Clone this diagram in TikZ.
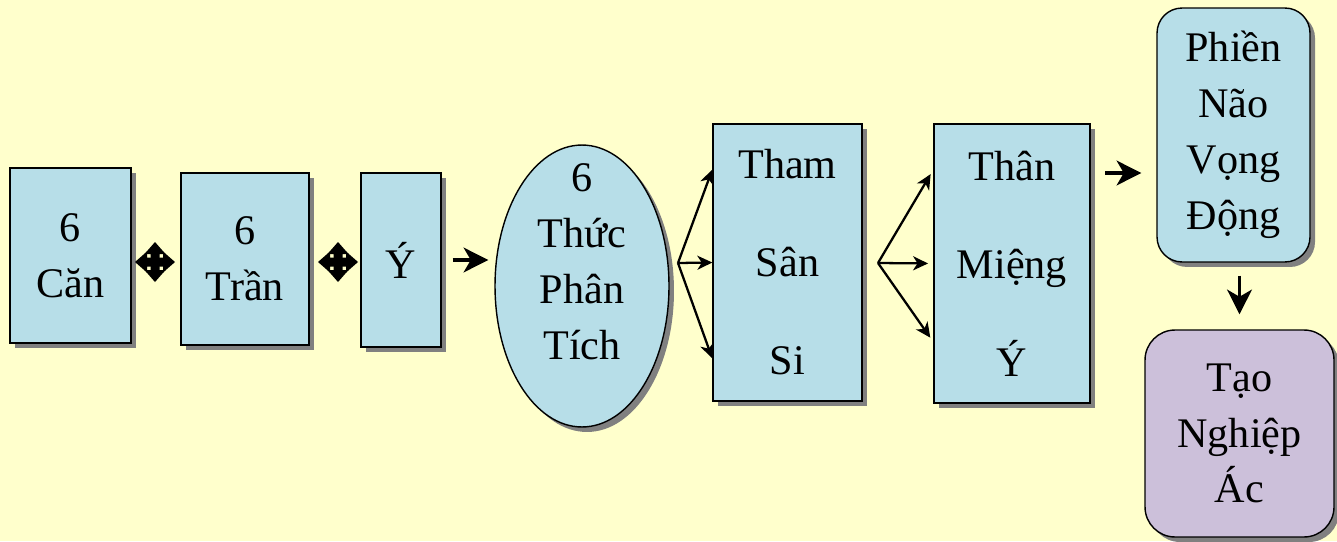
\documentclass[tikz,border=0pt]{standalone}
\usepackage{fontspec}
\setmainfont{Liberation Serif}
\usetikzlibrary{arrows.meta, positioning, shapes.geometric, shadows, calc}
\definecolor{bgyellow}{HTML}{FFFFCC}
\definecolor{boxblue}{HTML}{B7DEE8}
\definecolor{boxlilac}{HTML}{CCC0DA}
\definecolor{shadegray}{HTML}{808080}

\begin{document}
\begin{tikzpicture}[
    x=0.02cm, y=-0.02cm,
    >=Stealth,
    boxtext/.style={align=center, font=\fontsize{24}{31.8}\selectfont},
    box/.style={boxtext, draw, line width=0.8pt, fill=boxblue, inner sep=2pt,
                drop shadow={shadow xshift=0.1cm, shadow yshift=-0.1cm,
                             fill=shadegray, opacity=1}},
    tallbox/.style={box, font=\fontsize{24}{55.8}\selectfont},
    roundbox/.style={box, rounded corners=0.5cm},
    bigarrow/.style={-{Stealth[length=14pt, width=14pt, inset=4pt]},
                     line width=2.2pt},
    fanarrow/.style={-{Stealth[length=8.5pt, width=8pt, inset=2.5pt]},
                     line width=1.3pt}
  ]
  \fill[bgyellow] (0,0) rectangle (1337,541);
  \useasboundingbox (0,0) rectangle (1337,541);

  % senses and objects
  \node[box, minimum width=2.42cm, minimum height=3.5cm] (can) at (70.5,255.5) {6\\Căn};
  \node[box, minimum width=2.56cm, minimum height=3.44cm] (tran) at (245,259) {6\\Trần};
  \node[box, minimum width=1.6cm, minimum height=3.48cm] (yy) at (401,260) {Ý};

  % four-way arrows between them
  \coordinate (plusA) at (155,262);
  \coordinate (plusB) at (338,262);
  \foreach \p in {plusA, plusB}
    \foreach \a in {0,90,180,270}
      \fill[shift={(\p)}, rotate=\a]
        (0,-4.5) -- (8,-4.5) -- (8,-10.5) -- (20,0) -- (8,10.5) -- (8,4.5) -- (0,4.5) -- cycle;

  % consciousness
  \node[box, ellipse, minimum width=3.48cm, minimum height=5.64cm] (thuc) at (582,286) {};
  \node[boxtext] (thuctext) at (582,261.5) {6\\Thức\\Phân\\Tích};
  \draw[bigarrow, shorten <=0.22cm, shorten >=0.12cm] (yy.east) -- (yy.east -| thuc.west);

  % three poisons, three karmas
  \node[tallbox, minimum width=2.98cm, minimum height=5.54cm] (tham) at (787.5,262.5) {Tham\\Sân\\Si};
  \node[tallbox, minimum width=3.12cm, minimum height=5.58cm] (than) at (1012,263.5) {Thân\\Miệng\\Ý};

  \coordinate (forkA) at (678,263);
  \foreach \t in {0.166, 0.5, 0.845}
    \draw[fanarrow] (forkA) -- ($(tham.north west)!\t!(tham.south west)$);
  \coordinate (forkB) at (878,263);
  \foreach \t in {0.165, 0.5, 0.78}
    \draw[fanarrow, shorten >=3pt] (forkB) -- ($(than.north west)!\t!(than.south west)$);

  % results
  \node[roundbox, minimum width=3.06cm, minimum height=5.08cm] (phien) at (1233.5,135) {Phiền\\Não\\Vọng\\Động};
  \node[roundbox, fill=boxlilac, rounded corners=0.6cm, minimum width=3.78cm,
        minimum height=4.14cm] (tao) at (1239.5,433.5) {Tạo\\Nghiệp\\Ác};

  \coordinate (toPhien) at (1105,173);
  \draw[bigarrow, shorten >=0.3cm] (toPhien) -- (toPhien -| phien.west);
  \draw[bigarrow, shorten <=0.26cm, shorten >=0.3cm] (tao.north |- phien.south) -- (tao.north);
\end{tikzpicture}
\end{document}
